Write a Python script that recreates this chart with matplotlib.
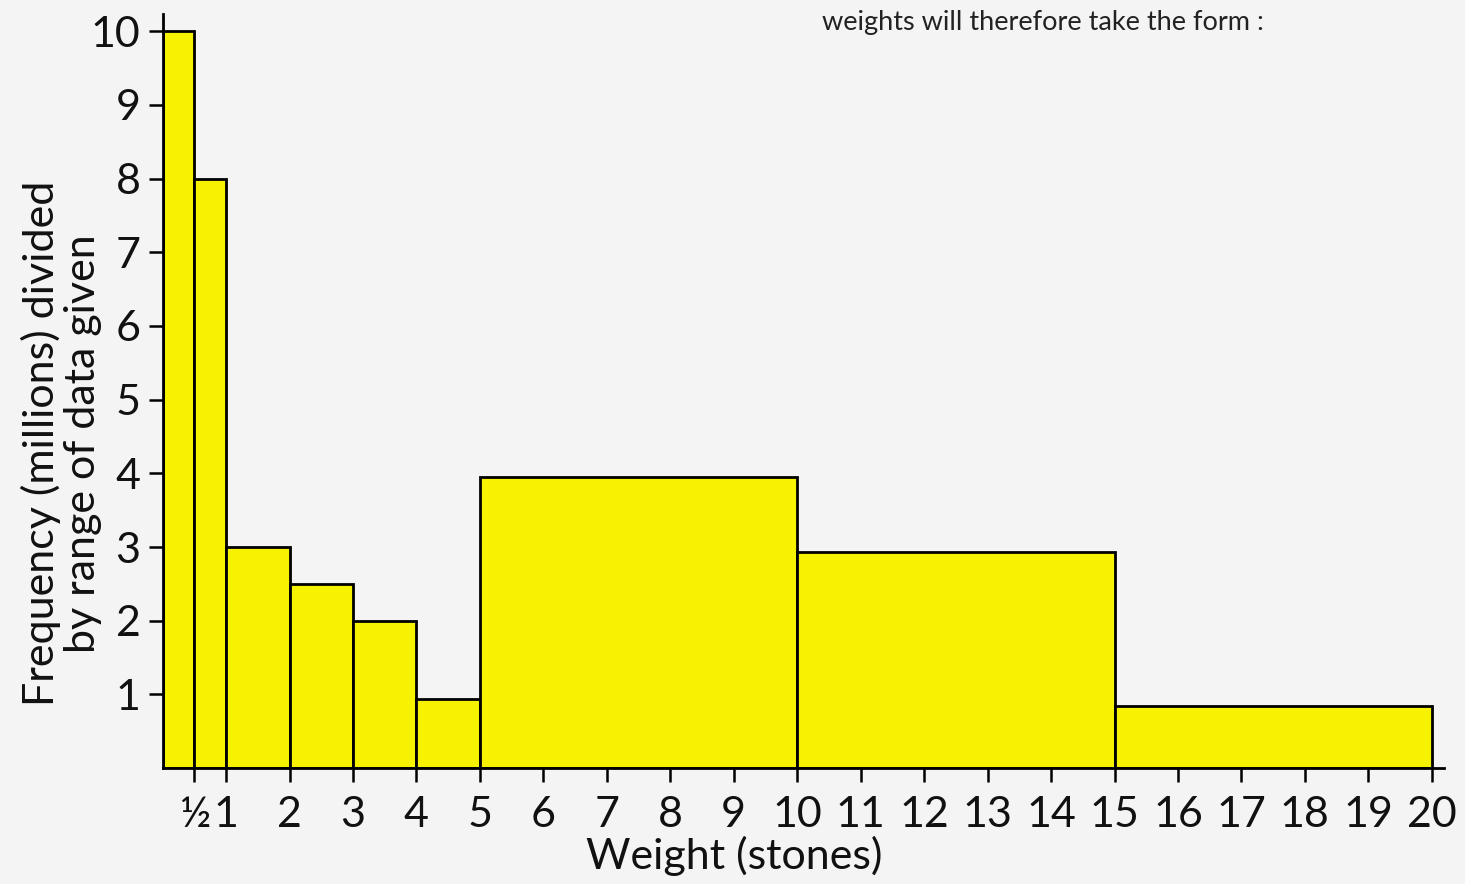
import matplotlib.pyplot as plt
import numpy as np

# class boundaries (stones) and bar heights (frequency / class width)
edges = [0, 0.5, 1, 2, 3, 4, 5, 10, 15, 20]
heights = [10, 8, 3, 2.5, 2, 0.94, 3.95, 2.93, 0.84]
xticks = [0.5] + list(range(1, 21))
xticklabels = ["½"] + [str(i) for i in range(1, 21)]
yticks = list(range(1, 11))

fnt = ["Lato", "DejaVu Sans"]
bg = "#f4f4f4"

fig = plt.figure(figsize=(14.65, 8.84), dpi=100, facecolor=bg)
ax = fig.add_axes([0.111, 0.131, 0.875, 0.853], facecolor=bg)

left = np.array(edges[:-1])
width = np.diff(edges)
ax.bar(left, heights, width=width, align="edge", color="#f7f200",
       edgecolor="black", linewidth=2)

ax.set_xlim(0, 20.2)
ax.set_ylim(0, 10.23)
ax.set_xticks(xticks)
ax.set_xticklabels(xticklabels, fontsize=31, family=fnt)
ax.set_yticks(yticks)
ax.set_yticklabels([str(v) for v in yticks], fontsize=31, family=fnt)
ax.tick_params(axis="both", length=10, width=1.8, direction="out", pad=6,
               labelcolor="#111111")
ax.tick_params(axis="x", pad=10)

for s in ["top", "right"]:
    ax.spines[s].set_visible(False)
for s in ["left", "bottom"]:
    ax.spines[s].set_linewidth(2)

ax.set_xlabel("Weight (stones)", fontsize=31, family=fnt, color="#111111")
ax.xaxis.set_label_coords(0.446, -0.09)
ax.set_ylabel("Frequency (millions) divided\nby range of data given",
              fontsize=31, family=fnt, linespacing=1.1, color="#111111")
ax.yaxis.set_label_coords(-0.047, 0.431)

fig.text(0.561, 0.975, "weights will therefore take the form :", fontsize=19.5,
         family=fnt, ha="left", va="center", color="#222222")

fig.savefig("out.png", dpi=100, facecolor=bg)
